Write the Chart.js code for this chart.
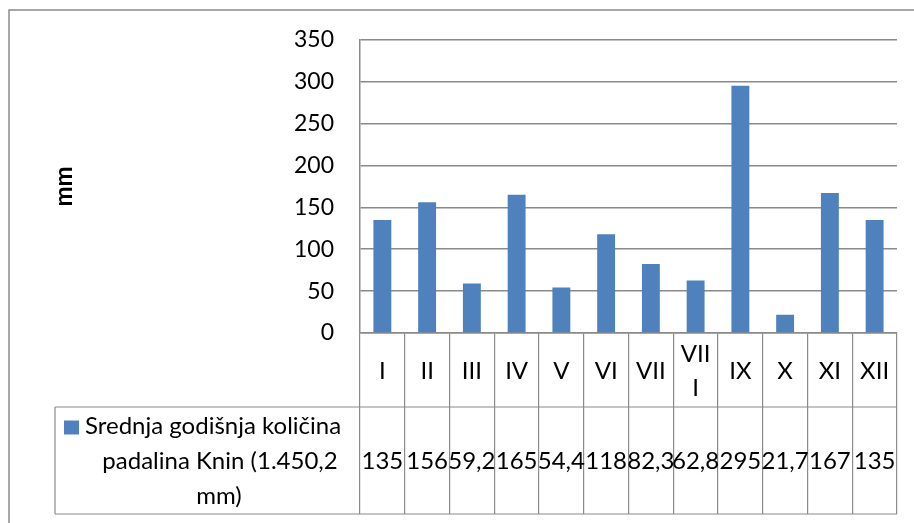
<!DOCTYPE html>
<html>
<head>
<meta charset="utf-8">
<script src="https://cdn.jsdelivr.net/npm/chart.js@4.4.0/dist/chart.umd.min.js"></script>
<style>
  body { margin: 0; background: #fff; }
  #wrap { width: 914px; height: 523px; position: relative; }
</style>
</head>
<body>
<div id="wrap"><canvas id="chart"></canvas></div>
<script>
// data
var months = ['I', 'II', 'III', 'IV', 'V', 'VI', 'VII', 'VIII', 'IX', 'X', 'XI', 'XII'];
var monthLabels = [['I'], ['II'], ['III'], ['IV'], ['V'], ['VI'], ['VII'], ['VII', 'I'], ['IX'], ['X'], ['XI'], ['XII']];
var rainfall = [135, 156, 59.2, 165, 54.4, 118, 82.3, 62.8, 295, 21.7, 167, 135];
var yTicks = [0, 50, 100, 150, 200, 250, 300, 350];
var seriesName = ['Srednja godišnja količina', 'padalina Knin (1.450,2', 'mm)'];
var axisTitle = 'mm';

var barColor = '#4F81BD';
var lineColor = '#8a8a8a';
var font = '24px Lato';

// Excel style data table under the plot
var dataTable = {
  id: 'dataTable',
  afterDraw: function(chart) {
    var ctx = chart.ctx;
    var x = chart.scales.x;
    var area = chart.chartArea;
    var rowTop = area.bottom;
    var rowMid = area.bottom + 74;
    var tableBottom = x.bottom;
    var cellLeft = 55;

    ctx.save();
    ctx.strokeStyle = lineColor;

    // outer border of the chart object
    ctx.lineWidth = 1.5;
    ctx.beginPath();
    ctx.moveTo(9, chart.height);
    ctx.lineTo(9, 10);
    ctx.lineTo(chart.width, 10);
    ctx.stroke();

    // table lines
    ctx.lineWidth = 1.2;
    ctx.beginPath();
    ctx.moveTo(cellLeft, rowMid);
    ctx.lineTo(area.right, rowMid);
    ctx.moveTo(cellLeft, tableBottom);
    ctx.lineTo(area.right, tableBottom);
    ctx.moveTo(cellLeft, rowMid);
    ctx.lineTo(cellLeft, tableBottom);
    ctx.stroke();

    ctx.fillStyle = '#000';
    ctx.font = font;
    ctx.textAlign = 'center';
    ctx.textBaseline = 'middle';

    // month labels, centred in their row
    var monthMid = (rowTop + rowMid) / 2 + 1;
    monthLabels.forEach(function(lines, i) {
      var px = x.getPixelForValue(i);
      var lh = 34;
      var y0 = monthMid - (lines.length - 1) * lh / 2;
      lines.forEach(function(t, j) {
        ctx.fillText(t, px, y0 + j * lh);
      });
    });

    // values row
    var valueMid = (rowMid + tableBottom) / 2 + 1;
    rainfall.forEach(function(v, i) {
      ctx.fillText(String(v).replace('.', ','), x.getPixelForValue(i), valueMid);
    });

    // legend key + series name
    ctx.fillStyle = barColor;
    ctx.fillRect(64, valueMid - 41, 15, 14);
    ctx.fillStyle = '#000';
    ctx.textAlign = 'left';
    ctx.fillText(seriesName[0], 85, valueMid - 35);
    ctx.textAlign = 'center';
    ctx.fillText(seriesName[1], 220, valueMid);
    ctx.fillText(seriesName[2], 219, valueMid + 35);
    ctx.restore();
  }
};

var chart = new Chart(document.getElementById('chart'), {
  type: 'bar',
  data: {
    labels: months,
    datasets: [{
      label: seriesName.join(' '),
      data: rainfall,
      backgroundColor: barColor,
      barPercentage: 0.4,
      categoryPercentage: 1.0
    }]
  },
  options: {
    responsive: true,
    maintainAspectRatio: false,
    animation: false,
    layout: { padding: { left: 50, right: 17, top: 38, bottom: 9 } },
    plugins: {
      legend: { display: false },
      tooltip: { enabled: false }
    },
    scales: {
      x: {
        offset: true,
        grid: {
          offset: true,
          drawOnChartArea: false,
          drawTicks: true,
          tickLength: 181,
          color: lineColor,
          lineWidth: 1.2
        },
        border: { color: lineColor, width: 1.5 },
        ticks: { display: false },
        afterFit: function(scale) { scale.height = 181; }
      },
      y: {
        min: 0,
        max: 350,
        afterBuildTicks: function(scale) {
          scale.ticks = yTicks.map(function(v) { return { value: v }; });
        },
        grid: { color: lineColor, lineWidth: 1.5, drawTicks: false },
        border: { color: lineColor, width: 1.5 },
        ticks: {
          padding: 26,
          color: '#000',
          font: { family: 'Lato', size: 23 }
        },
        title: {
          display: true,
          text: axisTitle,
          color: '#000',
          padding: 0,
          font: { family: 'Lato', size: 24, weight: 'bold' }
        },
        afterFit: function(scale) { scale.width = 310; }
      }
    }
  },
  plugins: [dataTable]
});
</script>
</body>
</html>
